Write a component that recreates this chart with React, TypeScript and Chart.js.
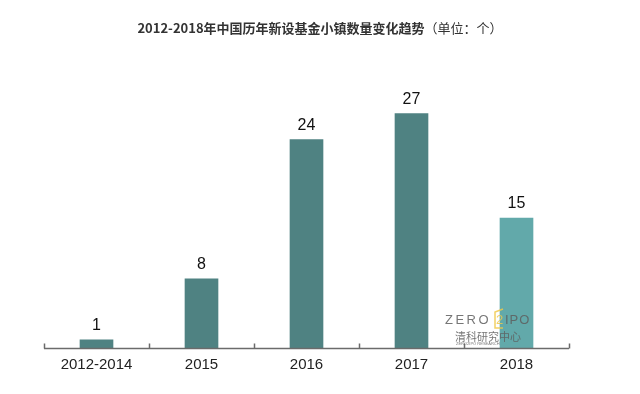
import React, { useEffect, useRef } from "react";
import { Chart, registerables } from "chart.js";

Chart.register(...registerables);

const titleBold = "2012-2018年中国历年新设基金小镇数量变化趋势";
const titleUnit = "（单位：个）";
const categories = ["2012-2014", "2015", "2016", "2017", "2018"];
const values = [1, 8, 24, 27, 15];
const barColors = ["#4f8282", "#4f8282", "#4f8282", "#4f8282", "#62a9aa"];

function spaced(ctx: any, text: string, x: number, y: number, gap: number) {
  let cx = x;
  for (const ch of text) {
    ctx.fillText(ch, cx, y);
    cx += ctx.measureText(ch).width + gap;
  }
  return cx;
}

const overlayPlugin = {
  id: "overlay",
  afterDatasetsDraw(chart: any) {
    const ctx = chart.ctx;
    const area = chart.chartArea;
    ctx.save();
    ctx.strokeStyle = "#6b6b6b";
    ctx.lineWidth = 1.5;
    ctx.beginPath();
    ctx.moveTo(area.left, area.bottom);
    ctx.lineTo(area.right, area.bottom);
    const n = categories.length;
    for (let i = 0; i <= n; i++) {
      const x = Math.round(area.left + ((area.right - area.left) * i) / n) + 0.5;
      ctx.moveTo(x, area.bottom);
      ctx.lineTo(x, area.bottom - 5);
    }
    ctx.stroke();

    // value labels
    const meta = chart.getDatasetMeta(0);
    ctx.fillStyle = "#111";
    ctx.font = "16px Arial, 'Liberation Sans', sans-serif";
    ctx.textAlign = "center";
    ctx.textBaseline = "alphabetic";
    meta.data.forEach((bar: any, i: number) => {
      ctx.fillText(String(values[i]), bar.x, bar.y - 10);
    });

    // title
    ctx.textBaseline = "middle";
    ctx.textAlign = "left";
    ctx.fillStyle = "#333";
    const boldFont = "bold 13px 'Noto Sans CJK SC', sans-serif";
    const normFont = "13px 'Noto Sans CJK SC', sans-serif";
    ctx.font = boldFont;
    const w1 = ctx.measureText(titleBold).width;
    ctx.font = normFont;
    const w2 = ctx.measureText(titleUnit).width;
    const start = 320 - (w1 + w2) / 2;
    ctx.font = boldFont;
    ctx.fillText(titleBold, start, 28);
    ctx.font = normFont;
    ctx.fillText(titleUnit, start + w1, 28);

    // watermark
    ctx.globalAlpha = 0.85;
    ctx.fillStyle = "#5e5e5e";
    ctx.font = "13px Arial, 'Liberation Sans', sans-serif";
    ctx.textAlign = "left";
    ctx.textBaseline = "middle";
    const wy = 320;
    spaced(ctx, "ZERO", 445, wy, 2.5);
    ctx.strokeStyle = "#f0c84a";
    ctx.lineWidth = 1.5;
    ctx.beginPath();
    ctx.moveTo(503, wy - 11);
    ctx.lineTo(495, wy - 8);
    ctx.lineTo(495, wy + 8);
    ctx.lineTo(503, wy + 8);
    ctx.stroke();
    ctx.fillStyle = "#f0c84a";
    ctx.fillText("2", 496, wy);
    ctx.fillStyle = "#5e5e5e";
    spaced(ctx, "IPO", 505, wy, 1);
    ctx.font = "11px 'Noto Sans CJK SC', sans-serif";
    ctx.fillText("清科研究中心", 455, 337);
    ctx.font = "4px Arial, sans-serif";
    ctx.fillText("ZERO2IPO RESEARCH", 456, 344);
    ctx.restore();
  },
};

export default function App() {
  const ref = useRef<HTMLCanvasElement>(null);
  useEffect(() => {
    const chart = new Chart(ref.current!, {
      type: "bar",
      data: {
        labels: categories,
        datasets: [
          {
            data: values,
            backgroundColor: barColors,
            barThickness: 33,
          },
        ],
      },
      options: {
        animation: false,
        responsive: false,
        maintainAspectRatio: false,
        layout: { padding: { left: 44, right: 71, top: 44, bottom: 13.5 } },
        plugins: { legend: { display: false }, title: { display: false }, tooltip: { enabled: false } },
        scales: {
          x: {
            grid: { display: false, drawTicks: false },
            border: { display: false },
            ticks: {
              color: "#222",
              font: { size: 15, family: "Arial, 'Liberation Sans', sans-serif" },
              padding: 7,
            },
          },
          y: { display: false, min: 0, max: 35 },
        },
      },
      plugins: [overlayPlugin],
    });
    return () => chart.destroy();
  }, []);
  return (
    <div style={{ position: "fixed", left: 0, top: 0, width: 640, height: 394, background: "#fff" }}>
      <canvas ref={ref} width={640} height={394} style={{ display: "block" }} />
    </div>
  );
}
